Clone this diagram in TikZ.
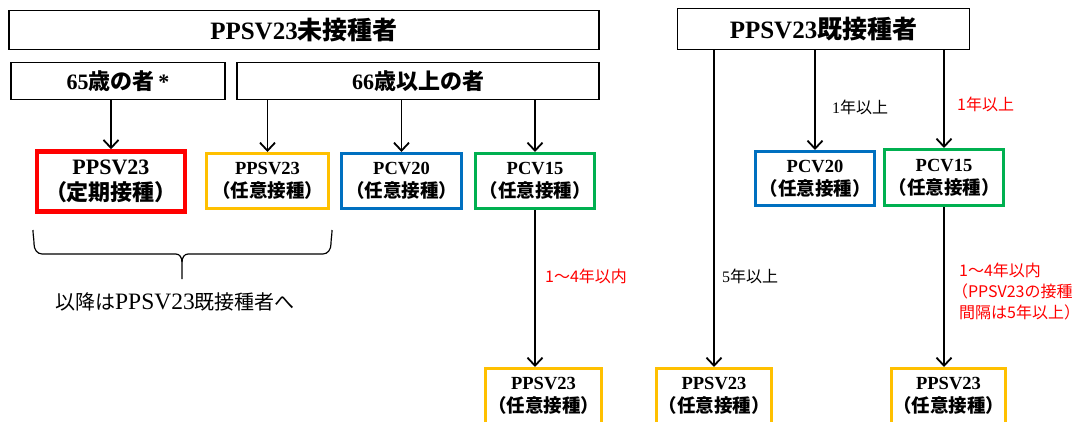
\documentclass[tikz,border=0pt]{standalone}
\usepackage{fontspec}
\setmainfont{Liberation Serif}
\newfontfamily\jp{Noto Sans CJK JP}
\usetikzlibrary{arrows.meta}
\definecolor{cred}{RGB}{255,0,0}
\definecolor{cyel}{RGB}{255,192,0}
\definecolor{cblue}{RGB}{0,112,192}
\definecolor{cgreen}{RGB}{0,176,80}
\begin{document}
\begin{tikzpicture}[x=1pt,y=-1pt,
  box/.style={draw, line width=1.5pt, inner sep=0pt, align=center},
  vbox/.style={draw, line width=3pt, inner sep=0pt, align=center, minimum height=55pt,
    font=\fontsize{18.5}{23}\selectfont\bfseries},
  arr/.style={line width=1.8pt, -{Straight Barb[length=8pt,width=15pt,line width=1.8pt]}},
  lab/.style={anchor=west, inner sep=0pt, font=\fontsize{16}{21}\selectfont\jp, align=left},
  redlab/.style={lab, text=cred},
]
\useasboundingbox (0,0) rectangle (1082,421);
\clip (0,0) rectangle (1082,421);
% header boxes
\node[box, minimum width=590pt, minimum height=39pt, font=\fontsize{25}{28}\selectfont\bfseries] (mi) at (304,30) {PPSV23{\jp 未接種者}};
\node[box, minimum width=214pt, minimum height=37pt, font=\fontsize{22}{26}\selectfont\bfseries] (a65) at (118,81) {65{\jp 歳の者}\,*};
\node[box, minimum width=362pt, minimum height=37pt, font=\fontsize{22}{26}\selectfont\bfseries] (a66) at (418,81) {66{\jp 歳以上の者}};
\node[box, minimum width=292pt, minimum height=41pt, font=\fontsize{25}{28}\selectfont\bfseries] (ki) at (823.5,29) {PPSV23{\jp 既接種者}};
% vaccine boxes, left
\node[vbox, draw=cred, line width=4.5pt, minimum width=148pt, minimum height=60pt, font=\fontsize{22}{26}\selectfont\bfseries] (r1) at (111,181.5) {PPSV23\\{\jp （定期接種）}};
\node[vbox, draw=cyel, minimum width=122pt] (y1) at (267.5,181) {PPSV23\\{\jp （任意接種）}};
\node[vbox, draw=cblue, minimum width=120pt] (b1) at (401.5,181) {PCV20\\{\jp （任意接種）}};
\node[vbox, draw=cgreen, minimum width=119pt] (g1) at (535,181) {PCV15\\{\jp （任意接種）}};
% right
\node[vbox, draw=cblue, minimum width=119pt, minimum height=54pt] (b2) at (815,178.5) {PCV20\\{\jp （任意接種）}};
\node[vbox, draw=cgreen, minimum width=119pt, minimum height=56pt] (g2) at (944,177.5) {PCV15\\{\jp （任意接種）}};
% bottom
\node[vbox, draw=cyel, minimum width=116pt] (y2) at (543.5,396) {PPSV23\\{\jp （任意接種）}};
\node[vbox, draw=cyel, minimum width=115pt] (y3) at (714,396) {PPSV23\\{\jp （任意接種）}};
\node[vbox, draw=cyel, minimum width=114pt] (y4) at (948.5,396) {PPSV23\\{\jp （任意接種）}};
% arrows
\draw[arr] (a65.south -| r1.north) -- (r1.north);
\draw[arr] (a66.south -| y1.north) -- (y1.north);
\draw[arr] (a66.south -| b1.north) -- (b1.north);
\draw[arr] (a66.south -| g1.north) -- (g1.north);
\draw[arr] (g1.south) -- (g1.south |- y2.north);
\draw[arr] (ki.south -| y3.north) -- (y3.north);
\draw[arr] (ki.south -| b2.north) -- (b2.north);
\draw[arr] (ki.south -| g2.north) -- (g2.north);
\draw[arr] (g2.south) -- (g2.south |- y4.north);
% labels
\node[redlab] (l1) at (545,276) {1～4年以内};
\node[lab] (l2) at (722,276) {{\rmfamily 5}年以上};
\node[lab] (l3) at (832,107) {{\rmfamily 1}年以上};
\node[redlab] (l4) at (957,104) {1年以上};
\node[redlab, anchor=north west] (l5) at (959,263) {1～4年以内\\\hspace*{-0.45em}（PPSV23の接種\\間隔は5年以上）};
% brace
\draw[line width=1.2pt] (33,230) to[out=-90,in=90] (34,244) to[out=-90,in=180] (42,254) -- (176,254)
  to[out=0,in=90] (182,262) -- (182,279);
\draw[line width=1.2pt] (332,230) to[out=-90,in=90] (331,244) to[out=-90,in=0] (323,254) -- (188,254)
  to[out=180,in=90] (182,262);
\node[anchor=center, inner sep=0pt, font=\fontsize{20}{22}\selectfont\jp] (txt) at (175,302) {以降は{\rmfamily\fontsize{23.5}{22}\selectfont PPSV23}既接種者へ};
\end{tikzpicture}
\end{document}
